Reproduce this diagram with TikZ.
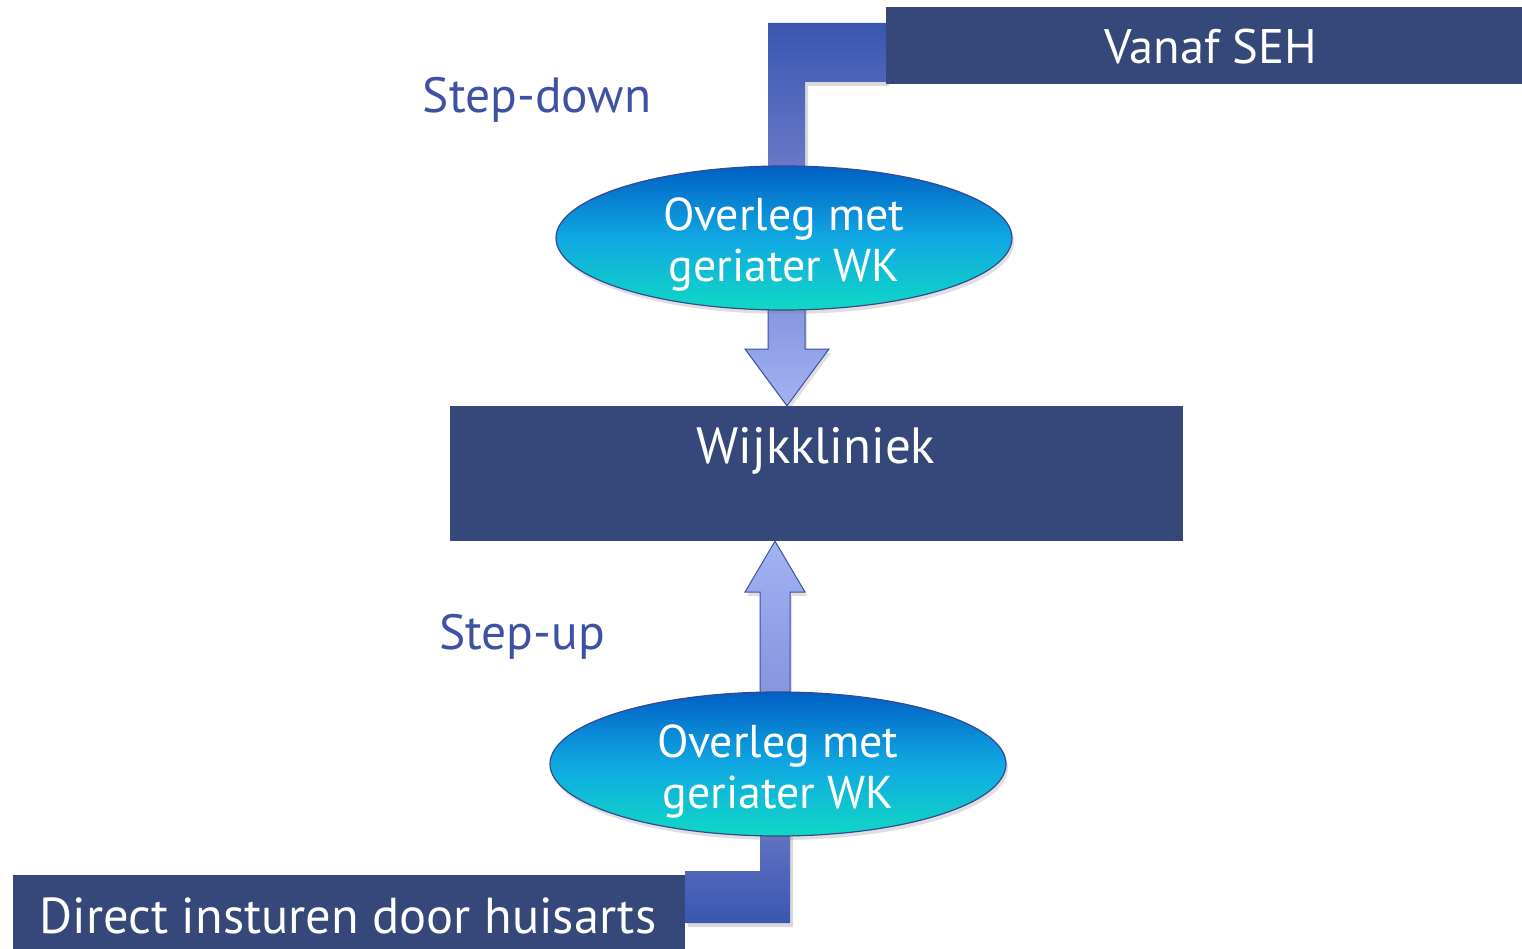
\documentclass[tikz,border=0pt]{standalone}
\usepackage{fontspec}
\setmainfont{PT Sans}
\usetikzlibrary{shapes.geometric,shadows,backgrounds}
\definecolor{boxblue}{RGB}{54,71,122}
\definecolor{labelblue}{RGB}{63,81,165}
\definecolor{elbowdark}{RGB}{58,86,176}
\definecolor{elbowlight}{RGB}{108,122,200}
\definecolor{arrowlight}{RGB}{162,178,243}
\definecolor{arrowmid}{RGB}{132,148,222}
\definecolor{arrowedge}{RGB}{64,80,160}
\definecolor{elltop}{RGB}{0,96,196}
\definecolor{ellmid}{RGB}{16,168,226}
\definecolor{ellbot}{RGB}{16,216,196}
\definecolor{elledge}{RGB}{52,72,150}
\tikzset{
  darkbox/.style={rectangle, fill=boxblue, draw=none, inner sep=0pt},
  boxtext/.style={text=white, inner sep=0pt, anchor=base},
  sidelabel/.style={text=labelblue, font=\fontsize{49.5}{50}\selectfont, inner sep=0pt, anchor=base},
  overleg/.style={ellipse, draw=elledge, line width=1.2pt, inner sep=0pt,
    minimum width=456, minimum height=144, top color=elltop, bottom color=ellbot,
    middle color=ellmid,
    drop shadow={opacity=0.25, shadow xshift=2pt, shadow yshift=-4pt}},
  overlegtext/.style={text=white, inner sep=0pt, anchor=base,
    font=\fontsize{46}{46}\selectfont},
  elbow/.style={draw=none,
    drop shadow={opacity=0.3, shadow xshift=3pt, shadow yshift=-4pt}},
  fatarrow/.style={draw=arrowedge, line width=1pt, line join=miter,
    drop shadow={opacity=0.25, shadow xshift=2pt, shadow yshift=-4pt}},
}
\begin{document}
\begin{tikzpicture}[x=1pt,y=-1pt]
\useasboundingbox (0,0) rectangle (1522,949);

% boxes
\node[darkbox, minimum width=636, minimum height=77] (seh) at (1204,45.5) {};
\node[boxtext, font=\fontsize{48.5}{49}\selectfont] (sehtext) at (1211,64) {Vanaf SEH};

\node[darkbox, minimum width=733, minimum height=135] (wk) at (816.5,473.5) {};
\node[boxtext, font=\fontsize{51}{51}\selectfont] (wktext) at (816,463) {Wijkkliniek};

\node[darkbox, minimum width=672, minimum height=76] (ha) at (349,913) {};
\node[boxtext, font=\fontsize{50.5}{51}\selectfont] (hatext) at (348,933) {Direct insturen door huisarts};

% consultation ellipses and their two-line captions
\node[overleg] (e1) at (784,238) {};
\node[overlegtext] (e1a) at (784,231) {Overleg met};
\node[overlegtext] (e1b) at (784,282) {geriater WK};

\node[overleg] (e2) at (778,764) {};
\node[overlegtext] (e2a) at (778,757) {Overleg met};
\node[overlegtext] (e2b) at (778,808) {geriater WK};

\begin{scope}[on background layer]
% elbow from "Vanaf SEH" down to the upper consultation
\path[elbow, top color=elbowdark, bottom color=elbowlight]
  (768,23) -- (seh.west |- 0,23) -- (seh.west |- 0,82) -- (805,82)
  -- (805,175) -- (768,175) -- cycle;

% elbow from "Direct insturen door huisarts" up to the lower consultation
\path[elbow, top color=elbowlight!85!elbowdark, bottom color=elbowdark]
  (760,825) -- (790,825) -- (790,923) -- (ha.east |- 0,923)
  -- (ha.east |- 0,871) -- (760,871) -- cycle;

% step-down arrow: upper ellipse to Wijkkliniek
\path[fatarrow, top color=arrowmid, bottom color=arrowlight]
  (768,300) -- (805,300) -- (805,349) -- (829,349)
  -- (wk.north -| 787,0) -- (745,349) -- (768,349) -- cycle;

% step-up arrow: lower ellipse to Wijkkliniek
\path[fatarrow, top color=arrowlight, bottom color=arrowmid]
  (760,700) -- (760,592) -- (745,592) -- (wk.south -| 775,0)
  -- (805,592) -- (790,592) -- (790,700) -- cycle;
\end{scope}

% side labels
\node[sidelabel] (down) at (537,113) {Step-down};
\node[sidelabel] (up) at (522,649) {Step-up};
\end{tikzpicture}
\end{document}
